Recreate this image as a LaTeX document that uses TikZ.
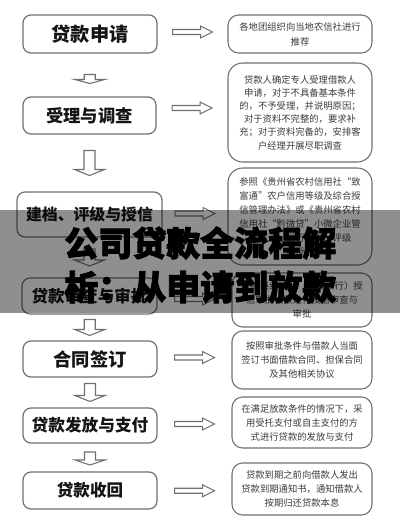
\documentclass[tikz,border=0pt]{standalone}
\usepackage{fontspec}
\newfontfamily\cjk{Noto Sans CJK SC}
\newfontfamily\heavy[BoldFeatures={FakeBold=2.5}]{Noto Sans CJK SC}
\usetikzlibrary{calc}
\newcommand\pxu{0.75pt}
\definecolor{boxgray}{HTML}{707070}
\definecolor{txtgray}{HTML}{3C3C3C}
\begin{document}
\begin{tikzpicture}[x=0.75pt,y=-0.75pt,
  lbox/.style={draw=boxgray, line width=0.9pt, rounded corners=6pt, inner sep=0pt, text=black!92},
  rbox/.style={draw=boxgray, line width=0.8pt, rounded corners=8pt, inner sep=0pt, align=center, text=txtgray},
  rfont/.style={font={\cjk\fontsize{7}{10.5}\selectfont}},
  lfont/.style={font={\cjk\bfseries\fontsize{#1}{#1}\selectfont}},
  blk/.style={draw=boxgray, line width=0.8pt, fill=white, line join=miter},
  pics/rarr/.style={code={
    \draw[blk] (-20,-2.5) -- (8,-2.5) -- (8,-6) -- (20,0) -- (8,6) -- (8,2.5) -- (-20,2.5) -- cycle;}},
  pics/darr/.style n args={2}{code={
    \draw[blk] (-5.5,{-#1/2}) -- (-5.5,{#1/2-#2}) -- (-15,{#1/2-#2}) -- (0,{#1/2}) -- (15,{#1/2-#2}) -- (5.5,{#1/2-#2}) -- (5.5,{-#1/2}) -- cycle;}},
  banner/.style={font={\heavy\bfseries\fontsize{25.5}{25.5}\selectfont}, text=black, anchor=west, inner sep=0pt}
]
\useasboundingbox (0,0) rectangle (400,525);
\fill[white] (0,0) rectangle (400,525);

% left boxes
\node[lbox, lfont=14.4, minimum width=134*\pxu, minimum height=38*\pxu] (L1) at (90,34) {贷款申请};
\node[lbox, lfont=13, minimum width=133*\pxu, minimum height=37*\pxu] (L2) at (89.5,115.5) {受理与调查};
\node[lbox, lfont=11.9, minimum width=145*\pxu, minimum height=45*\pxu] (L3) at (89.5,214.5) {建档、评级与授信};
\node[lbox, lfont=12.4, minimum width=135*\pxu, minimum height=36*\pxu] (L4) at (89.5,296) {贷款审查与审批};
\node[lbox, lfont=13.7, minimum width=134*\pxu, minimum height=36*\pxu] (L5) at (90,359) {合同签订};
\node[lbox, lfont=12.5, minimum width=134*\pxu, minimum height=35*\pxu] (L6) at (90,425.5) {贷款发放与支付};
\node[lbox, lfont=12.4, minimum width=134*\pxu, minimum height=37*\pxu] (L7) at (90,490.5) {贷款收回};

% right boxes
\node[rbox, font={\cjk\fontsize{7}{11.25}\selectfont}, minimum width=144*\pxu, minimum height=38*\pxu] (R1) at (300,34) {各地团组织向当地农信社进行\\推荐};
\node[rbox, rounded corners=11pt, font={\cjk\fontsize{7}{9.9}\selectfont}, minimum width=144*\pxu, minimum height=99*\pxu] (R2) at (300,112.5) {贷款人确定专人受理借款人\\申请，对于不具备基本条件\\的，不予受理，并说明原因；\\对于资料不完整的，要求补\\充；对于资料完备的，安排客\\户经理开展尽职调查};
\node[rbox, rounded corners=11pt, rfont, minimum width=144*\pxu, minimum height=97*\pxu] (R3) at (300,216.5) {参照《贵州省农村信用社“致\\富通”农户信用等级及综合授\\信管理办法》或《贵州省农村\\信用社“黔微贷”小微企业管\\理办法》进行建档、评级\\与授信};
\node[rbox, rfont, minimum width=140*\pxu, minimum height=54*\pxu] (R4) at (302,300) {按照县级联社（农商银行）授\\信审批权限进行授信审查与\\审批};
\node[rbox, rfont, minimum width=140*\pxu, minimum height=58*\pxu] (R5) at (302,360) {按照审批条件与借款人当面\\签订书面借款合同、担保合同\\及其他相关协议};
\node[rbox, rfont, minimum width=140*\pxu, minimum height=51*\pxu] (R6) at (302,422.5) {在满足放款条件的情况下，采\\用受托支付或自主支付的方\\式进行贷款的发放与支付};
\node[rbox, rfont, minimum width=140*\pxu, minimum height=52*\pxu] (R7) at (302,489) {贷款到期之前向借款人发出\\贷款到期通知书，通知借款人\\按期归还贷款本息};

% horizontal block arrows (left box -> right box)
\pic at ($(L1.east)!0.5!(R1.west)+(0,-2)$) {rarr};
\pic at ($(L2.east)!0.5!(R2.west)+(0,-6)$) {rarr};
\pic at ($(L3.east)!0.5!(R3.west)+(0,-2)$) {rarr};
\pic at ($(L4.east)!0.5!(R4.west)+(0,1)$) {rarr};
\pic at ($(L5.east)!0.5!(R5.west)+(0,-2)$) {rarr};
\pic at ($(L6.east)!0.5!(R6.west)+(0,0)$) {rarr};
\pic at ($(L7.east)!0.5!(R7.west)+(0,1)$) {rarr};

% vertical block arrows
\pic at ($(L1.south)!0.5!(L2.north)+(0,4)$) {darr={9}{4}};
\pic at ($(L2.south)!0.5!(L3.north)$) {darr={25}{6}};
\pic at ($(L3.south)!0.5!(L4.north)$) {darr={17}{6}};
\pic at ($(L4.south)!0.5!(L5.north)$) {darr={16}{6}};
\pic at ($(L5.south)!0.5!(L6.north)+(0,0)$) {darr={18}{6}};
\pic at ($(L6.south)!0.5!(L7.north)+(0,1)$) {darr={13}{5}};

% overlay banner
\fill[black, opacity=0.44] (0,210) rectangle (400,313);
\node[banner] (T1) at (64,243) {公司贷款全流程解};
\node[banner] (T2) at (64,287) {析：从申请到放款};
\end{tikzpicture}
\end{document}
